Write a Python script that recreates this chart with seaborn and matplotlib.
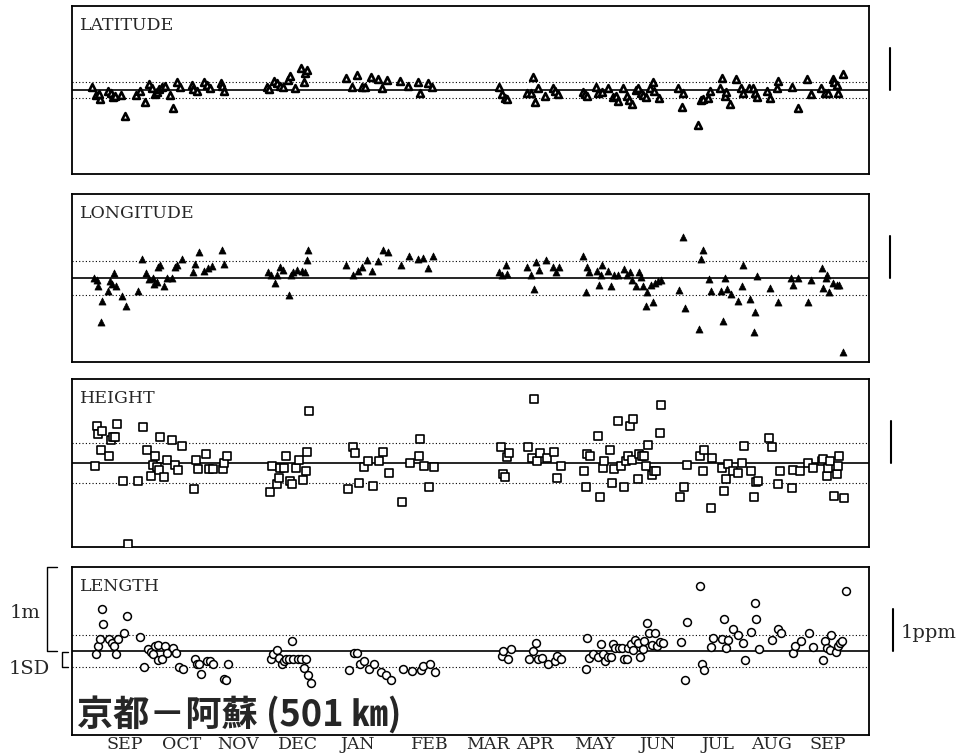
import pandas as pd
import seaborn as sns
import matplotlib.pyplot as plt

# 京都-阿蘇 baseline: daily residuals (m), x = days since 1 Sep

lat_day = [-1.9, 0, 2, 1.7, 5.9, 7.4, 8.7, 9.5, 12.4, 14.7,
           20, 22, 24.5, 26.7, 27.9, 29.5, 30.7, 31.7, 32.9, 34.5,
           37, 38.4, 40.4, 42, 47.9, 48.7, 50.4, 54, 55.7, 57,
           62.4, 63.2, 64, 85.4, 86.7, 89, 90.4, 92, 93.7, 96.2,
           97, 99.5, 102.4, 104.5, 105.7, 104, 125, 127.9, 130.7, 132.9,
           134.5, 137.4, 141.2, 142.9, 145.7, 152, 156.2, 161.2, 162, 166.2,
           167.9, 201.5, 202.9, 204.5, 205.4, 215.7, 217.4, 218.4, 219.5, 221.2,
           224.5, 228.4, 229.5, 231.2, 243.4, 244.5, 245.7, 250, 251.2, 252.9,
           256.2, 258.4, 260, 261.2, 263.4, 265.7, 266.7, 267.9, 270, 271.2,
           272.4, 273.7, 275, 277, 278.4, 279, 281.7, 291.2, 293.4, 293.2,
           301.2, 302.4, 303.7, 306.2, 307, 312, 313.2, 314.5, 315, 317,
           320, 322.4, 323.4, 326.7, 328.4, 329.5, 330.4, 335.4, 337, 340.4,
           341.2, 347.9, 351.2, 355.4, 357.4, 362.4, 364.5, 366.2, 368.4, 369,
           370.4, 371.2, 373.4]
lat_val = [0.03, -0.06, -0.11, -0.05, -0.01, -0.04, -0.08, -0.07, -0.06, -0.31,
           -0.06, -0.01, -0.14, 0.07, 0.02, -0.05, -0.02, 0.01, 0.03, 0.05,
           -0.06, -0.21, 0.09, 0.03, 0.06, 0.01, -0.01, 0.09, 0.06, 0.02,
           0.08, 0.05, -0.01, 0.03, 0.01, 0.11, 0.08, 0.05, 0.03, 0.12,
           0.17, 0.02, 0.26, 0.2, 0.24, 0.1, 0.14, 0.03, 0.18, 0.03,
           0.03, 0.15, 0.13, 0.02, 0.12, 0.11, 0.05, 0.1, -0.03, 0.08,
           0.03, 0.03, -0.05, -0.09, -0.11, -0.03, -0.03, 0.15, -0.14, 0.02,
           -0.07, 0.02, -0.01, -0.05, -0.02, -0.05, -0.07, 0.03, -0.03, -0.02,
           0.02, -0.08, -0.07, -0.13, 0.02, -0.07, -0.12, -0.17, 0, 0.02,
           -0.03, -0.06, -0.08, 0.02, 0.1, -0.01, -0.09, 0.02, -0.04, -0.2,
           -0.42, -0.12, -0.11, -0.09, -0.01, 0.02, 0.14, -0.07, -0.02, -0.17,
           0.13, 0.02, -0.04, 0.02, 0.02, -0.04, -0.08, -0.01, -0.09, 0.02,
           0.11, 0.03, -0.22, 0.13, -0.05, 0.02, -0.03, -0.03, 0.13, 0.1,
           0.06, -0.03, 0.19]

lon_day = [-0.9, 0.4, 0.9, 2.4, 2.9, 5.9, 7, 7.9, 9, 10,
           13.2, 14.9, 20.9, 22.9, 24.9, 26.7, 28.4, 29.2, 30.7, 30.9,
           32, 34, 35.4, 38.2, 39.5, 40.7, 42.9, 48.4, 49.5, 51.7,
           54, 56.2, 57.9, 62.9, 64.2, 86.2, 87.4, 89.5, 90.7, 92,
           93.4, 96.5, 97.4, 98.7, 100.7, 102.9, 104.5, 105.4, 106.2, 125,
           128.4, 130.9, 132.9, 135.4, 138.2, 141.2, 143.4, 146.2, 152.4, 156.7,
           161.2, 163.4, 166.2, 168.4, 201.7, 202.9, 204.9, 205.7, 215.4, 217.5,
           219, 220, 221.7, 225, 228.7, 229.9, 231.7, 243.7, 244.9, 245.4,
           246.5, 250.4, 251.7, 253.2, 252.5, 256.2, 257.5, 259, 261.2, 264,
           265.4, 267, 268.2, 270, 271.5, 272.4, 273.4, 275, 275.4, 277.5,
           278.7, 279.5, 281.2, 282.4, 291.7, 293.7, 294.5, 301.5, 302.5, 303.7,
           306.5, 307.5, 312.5, 313.7, 314.5, 315.7, 317.5, 320.9, 322.9, 323.7,
           327, 328.9, 329.5, 330.7, 337, 341.2, 347.5, 348.4, 351.2, 355.9,
           357.5, 362.9, 363.7, 365, 365.7, 366.7, 368.7, 370.4, 371.7, 373.7]
lon_val = [0.0, -0.02, -0.10, -0.52, -0.27, -0.16, -0.04, -0.07, 0.06, -0.10,
           -0.21, -0.33, -0.16, 0.23, 0.06, -0.01, 0.0, -0.07, -0.05, 0.13,
           0.15, -0.09, 0.0, 0.0, 0.13, 0.16, 0.23, 0.07, 0.17, 0.31,
           0.08, 0.12, 0.14, 0.33, 0.17, 0.07, 0.04, -0.06, 0.03, 0.13,
           0.10, -0.20, 0.03, 0.07, 0.10, 0.08, 0.07, 0.21, 0.33, 0.16,
           0.03, 0.08, 0.13, 0.22, 0.08, 0.20, 0.33, 0.31, 0.16, 0.26,
           0.23, 0.24, 0.12, 0.26, 0.07, 0.04, 0.15, 0.05, 0.13, 0.04,
           -0.13, 0.19, 0.09, 0.21, 0.13, 0.07, 0.13, 0.26, -0.17, 0.13,
           0.07, 0.08, -0.08, 0.15, 0.04, 0.08, -0.10, 0.03, 0.04, 0.11,
           0.04, 0.07, -0.02, -0.10, 0.07, 0.01, -0.10, -0.33, -0.17, -0.08,
           -0.29, -0.06, -0.04, -0.02, -0.14, 0.49, -0.36, -0.61, 0.23, 0.33,
           -0.01, -0.15, -0.16, -0.51, 0.0, -0.13, -0.19, -0.27, -0.10, 0.15,
           -0.25, -0.64, -0.40, 0.02, -0.12, -0.29, 0.0, -0.08, 0.0, -0.29,
           -0.02, 0.12, -0.12, 0.0, 0.03, -0.17, -0.06, -0.08, -0.08, -0.88]

hgt_day = [-0.5, 0.4, 1.2, 3.2, 2.4, 6.5, 7.4, 8.4, 9.5, 10.4,
           13.4, 15.9, 21.2, 23.4, 25.4, 27.4, 28.4, 29.5, 30.7, 31.5,
           32, 34.2, 35.4, 38, 39.5, 41.2, 43.2, 49.2, 49.9, 51.2,
           54.9, 56.7, 58.7, 63.4, 64.2, 65.4, 87, 88.2, 90.4, 91.5,
           92, 94, 95, 97, 97.9, 99.9, 101.5, 103.7, 105, 105.7,
           106.5, 126.2, 128.7, 129.5, 131.7, 134, 135.9, 138.7, 141.7, 143.7,
           146.7, 153.2, 157, 162, 161.7, 164.2, 166.7, 169, 202.4, 203.4,
           204.5, 205.4, 206.5, 216.2, 218.2, 219.2, 220.4, 222, 225.4, 229.2,
           230.4, 232.4, 244.2, 245, 245.7, 247, 250.9, 252, 253.4, 254,
           257, 257.9, 259, 260.9, 262.4, 264.2, 264.9, 266.2, 267, 268.7,
           268.2, 270.9, 271.7, 272.9, 274, 275, 275.9, 277.9, 279, 280,
           282, 282.5, 292, 294.2, 295.4, 302, 303.4, 304.2, 307.4, 307.9,
           313.2, 314, 315, 315.9, 318.4, 321.2, 323.2, 324.2, 327.4, 329.2,
           330, 331.2, 336.7, 337.9, 341.2, 342, 347.9, 348.7, 352, 356.2,
           358.4, 362.9, 363.7, 365.4, 366.2, 367, 370.4, 371.2, 371.7, 369.2,
           374.2]
hgt_val = [-0.04, 0.44, 0.35, 0.38, 0.15, 0.08, 0.27, 0.31, 0.31, 0.46,
           -0.21, -0.96, -0.21, 0.43, 0.16, -0.15, -0.02, 0.08, -0.05, -0.08,
           0.31, -0.17, 0.04, 0.27, -0.02, -0.08, 0.20, -0.31, 0.04, -0.07,
           0.11, -0.07, -0.07, -0.07, 0.0, 0.08, -0.35, -0.04, -0.25, -0.18,
           -0.06, -0.06, 0.08, -0.21, -0.25, -0.06, 0.04, -0.20, -0.10, 0.13,
           0.62, -0.31, 0.19, 0.12, -0.24, -0.05, 0.02, -0.27, 0.02, 0.13,
           -0.12, -0.46, 0.0, 0.28, 0.08, -0.04, -0.29, -0.05, 0.19, -0.13,
           -0.17, 0.07, 0.12, 0.19, 0.06, 0.76, 0.02, 0.12, 0.06, 0.13,
           -0.18, -0.04, -0.10, -0.28, 0.11, 0.08, 0.32, -0.41, -0.06, 0.02,
           0.15, -0.24, -0.07, 0.50, -0.04, -0.29, 0.02, 0.08, 0.44, 0.52,
           0.04, -0.19, 0.11, 0.08, 0.08, -0.03, 0.22, -0.14, -0.10, -0.09,
           0.36, 0.69, -0.40, -0.29, -0.02, 0.08, -0.10, 0.15, -0.53, 0.06,
           -0.06, -0.33, -0.19, -0.01, -0.10, -0.12, 0.0, 0.20, -0.10, -0.40,
           -0.23, -0.21, 0.30, 0.19, -0.25, -0.10, -0.30, -0.08, -0.10, 0.0,
           -0.06, 0.02, 0.05, -0.15, -0.06, 0.02, -0.13, -0.04, 0.08, -0.39,
           -0.42]

len_day = [-0.2, 0.9, 2, 2.9, 3.7, 6.7, 8.2, 9.2, 10, 11.2,
           14, 15.7, 22, 24, 25.9, 27.5, 28.7, 29.5, 31.2, 31.2,
           32.9, 34.5, 35.7, 38.4, 39.9, 41.7, 43.7, 49.5, 50.4, 51.7,
           52.5, 55.4, 57, 58.4, 64.2, 65, 65.9, 87.4, 88.4, 90.4,
           91.7, 92.9, 94, 95, 96.7, 97.9, 98.7, 100.9, 102.5, 104,
           105, 106.2, 107.4, 126.5, 129.2, 130.4, 132, 134.2, 136.5, 139.2,
           142.5, 145, 147.4, 153.7, 157.9, 162.4, 163.7, 167, 169.5, 202.9,
           203.7, 205.9, 207.4, 216.7, 218.4, 220, 221.2, 222.9, 225.9, 229.5,
           230.7, 232.5, 244.9, 245.7, 246.5, 248.4, 251.2, 252.5, 253.7, 254.5,
           255.9, 257.5, 258.4, 259.5, 261.5, 262.9, 264.2, 265.4, 266.2, 267.5,
           268.7, 269.5, 271.2, 272, 273.4, 274.2, 275.4, 276.7, 277.9, 279.5,
           280.4, 282, 283.4, 292.4, 294.5, 295.4, 302, 303.2, 304.2, 307.4,
           308.4, 313.2, 314, 315, 316.2, 318.4, 321.2, 323.4, 324.5, 327.5,
           329.5, 330, 331.7, 337.9, 341.2, 342.4, 348.7, 349.5, 352.5, 356.7,
           358.7, 363.7, 364.5, 365.7, 367, 367.5, 370, 371.2, 372, 372.9,
           374.9]
len_val = [-0.03, 0.06, 0.14, 0.50, 0.32, 0.14, 0.10, 0.06, -0.03, 0.14,
           0.22, 0.42, 0.17, -0.19, 0.02, -0.01, -0.04, 0.06, 0.07, -0.11,
           -0.10, 0.06, -0.02, 0.03, -0.02, -0.19, -0.21, -0.10, -0.15, -0.16,
           -0.27, -0.12, -0.12, -0.15, -0.33, -0.34, -0.15, -0.10, -0.03, 0.01,
           -0.08, -0.15, -0.12, -0.10, -0.10, 0.12, -0.10, -0.10, -0.10, -0.20,
           -0.10, -0.29, -0.38, -0.23, -0.02, -0.02, -0.16, -0.12, -0.21, -0.15,
           -0.25, -0.29, -0.34, -0.21, -0.24, -0.23, -0.18, -0.16, -0.25, -0.06,
           0.0, -0.10, 0.02, -0.09, 0.0, 0.09, -0.09, -0.08, -0.15, -0.12,
           -0.06, -0.09, -0.21, 0.15, -0.08, -0.04, -0.07, 0.08, -0.03, -0.12,
           -0.07, -0.07, 0.08, 0.04, 0.04, 0.04, -0.09, -0.09, 0.03, 0.08,
           0.01, 0.13, 0.10, -0.07, 0.02, 0.12, 0.33, 0.21, 0.07, 0.22,
           0.06, 0.11, 0.10, 0.11, -0.35, 0.35, 0.77, -0.15, -0.23, 0.05,
           0.15, 0.14, 0.38, 0.03, 0.13, 0.26, 0.19, 0.10, -0.11, 0.23,
           0.57, 0.38, 0.02, 0.13, 0.26, 0.22, -0.02, 0.06, 0.12, 0.22,
           0.05, -0.11, 0.12, 0.04, 0.01, 0.19, -0.01, 0.06, 0.10, 0.12,
           0.71]

panel_names = ["LATITUDE", "LONGITUDE", "HEIGHT", "LENGTH"]
panel_sd = [0.10, 0.20, 0.24, 0.19]   # 1 SD (m)
ppm_bar = 0.501                       # 1 ppm of 501 km (m)

month_pos = [14.5, 43, 71, 101, 131, 167, 196, 219.5, 249.5, 281, 311, 338, 366]
month_lab = ["SEP", "OCT", "NOV", "DEC", "JAN", "FEB", "MAR", "APR", "MAY",
             "JUN", "JUL", "AUG", "SEP"]

sns.set_style("white")
plt.rcParams["font.family"] = ["DejaVu Serif", "Liberation Serif"]

W, H = 960, 755
fig = plt.figure(figsize=(9.6, 7.55), dpi=100)

def rect(top, bot):
    return [72 / W, 1 - bot / H, (869 - 72) / W, (bot - top) / H]

def xa(px):
    return (px - 72) / 797

tops = [(6, 174), (194, 362), (379, 547), (567, 735)]
series = [(lat_day, lat_val), (lon_day, lon_val), (hgt_day, hgt_val), (len_day, len_val)]
styles = [
    dict(marker="^", s=24, facecolor="white", edgecolor="black", linewidth=1.9),
    dict(marker="^", s=26, color="black", edgecolor="black", linewidth=0.5),
    dict(marker="s", s=30, facecolor="white", edgecolor="black", linewidth=1.2),
    dict(marker="o", s=32, facecolor="white", edgecolor="black", linewidth=1.1),
]
bar_x = [890, 890, 891, 893]

axes = []
for i in range(4):
    ax = fig.add_axes(rect(*tops[i]))
    d = pd.DataFrame({"day": series[i][0], "val": series[i][1]})
    ax.axhline(0, color="black", lw=1.2, zorder=1)
    for sgn in (1, -1):
        ax.axhline(sgn * panel_sd[i], color="black", lw=0.8, ls=(0, (1, 2)), zorder=1)
    sns.scatterplot(data=d, x="day", y="val", ax=ax, zorder=3, **styles[i])
    ax.set_xlim(-12, 386.5)
    ax.set_ylim(-1, 1)
    ax.set(xlabel="", ylabel="")
    ax.set_yticks([])
    ax.set_xticks([])
    for sp in ax.spines.values():
        sp.set_color("black")
        sp.set_linewidth(1.3)
    ax.text(0.010, 0.885, panel_names[i], transform=ax.transAxes,
            fontsize=12.5, va="center", ha="left")
    ax.plot([xa(bar_x[i])] * 2, [0, ppm_bar], transform=ax.get_yaxis_transform(),
            clip_on=False, color="black", lw=1.5)
    axes.append(ax)

ax4 = axes[3]
ax4.set_xticks(month_pos, month_lab)
ax4.tick_params(axis="x", length=0, pad=1, labelsize=12.5)

tr = ax4.get_yaxis_transform()
ax4.plot([xa(57), xa(47), xa(47), xa(57)], [1, 1, 0, 0], transform=tr,
         clip_on=False, color="black", lw=1)
ax4.plot([xa(68), xa(62), xa(62), xa(68)], [-0.01, -0.01, -0.19, -0.19], transform=tr,
         clip_on=False, color="black", lw=1)
fig.text(25 / W, 1 - 613 / H, "1m", ha="center", va="center", fontsize=14)
fig.text(29 / W, 1 - 669 / H, "1SD", ha="center", va="center", fontsize=14)
fig.text(901 / W, 1 - 633 / H, "1ppm", ha="left", va="center", fontsize=14)

ax4.text(0.006, 0.005, "京都－阿蘇 (501 ㎞)", transform=ax4.transAxes,
         family=["Noto Sans CJK JP", "DejaVu Sans"], fontsize=26,
         fontweight="bold", va="bottom", ha="left")

fig.savefig("out.png", dpi=100)
